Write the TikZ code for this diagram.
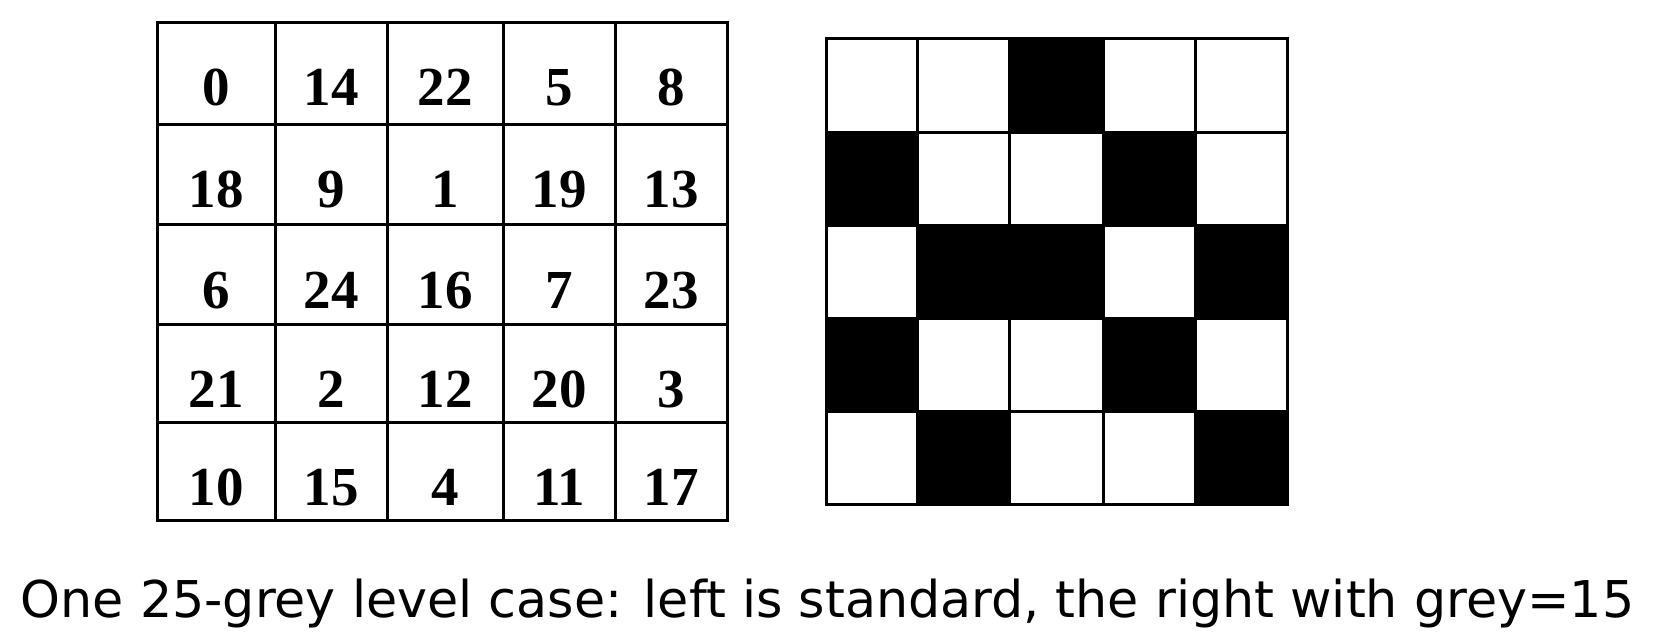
\documentclass[tikz,border=0pt]{standalone}
\usepackage{fontspec}
\setmainfont{DejaVu Sans}
\newfontfamily\numfont{Liberation Serif}
\begin{document}
\begin{tikzpicture}[x=1pt,y=1pt,
  gridline/.style={line width=3pt, line cap=rect},
  num/.style={font=\numfont\bfseries\fontsize{55}{55}\selectfont, anchor=base, inner sep=0pt},
  cell/.style={fill=black, draw=none}]
\useasboundingbox (0,0) rectangle (1664,638);
% ---- left grid: numbers
\def\lcols{216,331,445,559,671}
\foreach \r/\yt/\vals in {1/615/{0,14,22,5,8},2/513/{18,9,1,19,13},3/413/{6,24,16,7,23},4/314/{21,2,12,20,3},5/216/{10,15,4,11,17}}{
  \foreach \v [count=\c] in \vals {
    \pgfmathsetmacro{\xx}{{216,331,445,559,671}[\c-1]}
    \node[num] (n\r-\c) at (\xx,\yt-83) {\v};
  }
}
\foreach \x in {157,275,387,503,615,727} \draw[gridline] (\x,118) -- (\x,615);
\foreach \y in {615,513,413,314,216,118} \draw[gridline] (157,\y) -- (727,\y);
% ---- right grid: black cells
\def\fcell#1#2#3#4{\fill[black] (#1,#2) rectangle (#3,#4);}
\fcell{1009}{599}{1103}{505}
\fcell{826}{505}{917}{412}
\fcell{1103}{505}{1195}{412}
\fcell{917}{412}{1103}{320}
\fcell{1195}{412}{1287}{320}
\fcell{826}{320}{917}{227}
\fcell{1103}{320}{1195}{227}
\fcell{917}{227}{1009}{134}
\fcell{1195}{227}{1287}{134}
\foreach \x in {826,917,1009,1103,1195,1287} \draw[gridline] (\x,134) -- (\x,599);
\foreach \y in {599,505,412,320,227,134} \draw[gridline] (826,\y) -- (1287,\y);
% ---- caption
\node[anchor=base, inner sep=0pt] (caption) at (827.5,20.4)
  {\resizebox{1613pt}{!}{One 25-grey level case: left is standard, the right with grey=15}};
\end{tikzpicture}
\end{document}
